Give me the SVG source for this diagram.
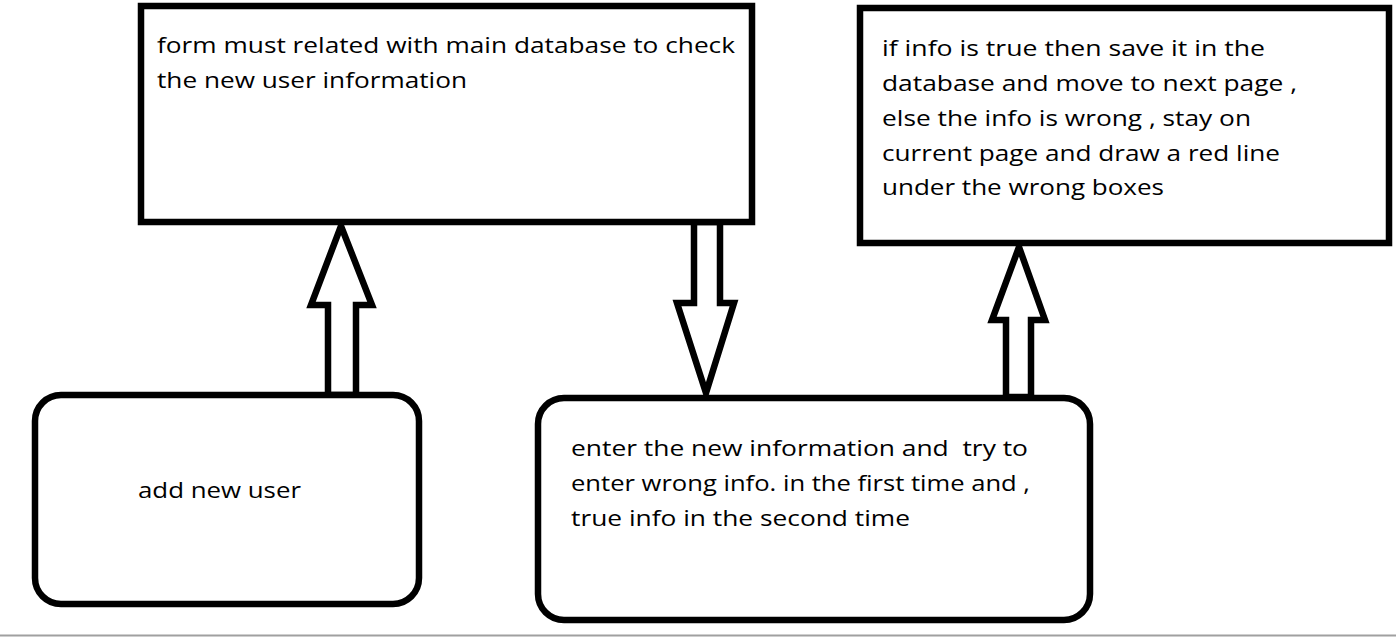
<svg xmlns="http://www.w3.org/2000/svg" width="1396" height="638" viewBox="0 0 1396 638">
<style>
.box{fill:#fff;stroke:#000;stroke-width:6.5}
.arr{fill:#fff;stroke:#000;stroke-width:6.5;stroke-linejoin:miter}
text{font-family:"Open Sans","Liberation Sans",sans-serif;font-size:22px;fill:#000;white-space:pre}
</style>
<rect x="0" y="0" width="1396" height="638" fill="#fff"/>
<line x1="0" y1="635.5" x2="1396" y2="635.5" stroke="#a0a0a0" stroke-width="2"/>
<g id="connectors">
<polygon class="arr" points="328,395 328,305 311,305 341,226 372,305 356,305 356,395"/>
<polygon class="arr" points="694,222 694,303 677,303 706,393 734,303 720,303 720,222"/>
<polygon class="arr" points="1006,397 1006,320 992,320 1019,247 1045,320 1031,320 1031,397"/>
</g>
<g id="node-form">
<rect class="box" x="141" y="6" width="611" height="216"/>
<text x="157" y="53" textLength="578" lengthAdjust="spacingAndGlyphs">form must related with main database to check</text>
<text x="157" y="88" textLength="310" lengthAdjust="spacingAndGlyphs">the new user information</text>
</g>
<g id="node-result">
<rect class="box" x="860" y="8" width="529" height="235"/>
<text x="882" y="56" textLength="383" lengthAdjust="spacingAndGlyphs">if info is true then save it in the</text>
<text x="882" y="91" textLength="415" lengthAdjust="spacingAndGlyphs">database and move to next page ,</text>
<text x="882" y="126" textLength="369" lengthAdjust="spacingAndGlyphs">else the info is wrong , stay on</text>
<text x="882" y="161" textLength="398" lengthAdjust="spacingAndGlyphs">current page and draw a red line</text>
<text x="882" y="195" textLength="282" lengthAdjust="spacingAndGlyphs">under the wrong boxes</text>
</g>
<g id="node-add">
<rect class="box" x="35" y="395" width="384" height="209" rx="26" ry="26"/>
<text x="138" y="498" textLength="163" lengthAdjust="spacingAndGlyphs">add new user</text>
</g>
<g id="node-enter">
<rect class="box" x="538" y="398" width="552" height="222" rx="26" ry="26"/>
<text x="571" y="456" textLength="457" lengthAdjust="spacingAndGlyphs">enter the new information and  try to</text>
<text x="571" y="491" textLength="459" lengthAdjust="spacingAndGlyphs">enter wrong info. in the first time and ,</text>
<text x="571" y="526" textLength="339" lengthAdjust="spacingAndGlyphs">true info in the second time</text>
</g>
</svg>
